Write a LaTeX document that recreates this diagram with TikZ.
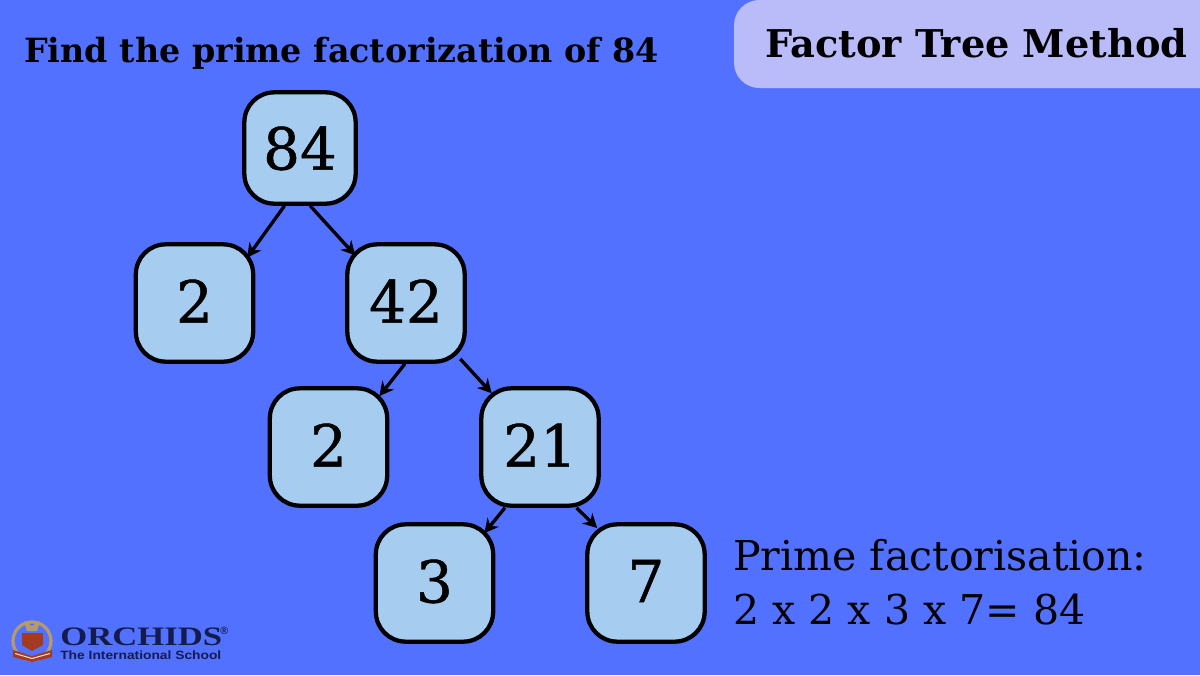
\documentclass[tikz,border=0pt]{standalone}
\usepackage{fontspec}
\usepackage{tikz}
\usetikzlibrary{arrows.meta}
\setmainfont{DejaVu Serif}
\newfontfamily\numfont[FakeBold=0.8]{DejaVu Serif}
\newfontfamily\logofont{Liberation Serif}
\newfontfamily\subfont{Liberation Sans}
\pgfdeclarelayer{edges}
\pgfsetlayers{edges,main}
\definecolor{bluebg}{HTML}{5271FF}
\definecolor{boxfill}{HTML}{A6CDF0}
\definecolor{bannerfill}{HTML}{B9BCF8}
\definecolor{logoink}{HTML}{141B4D}
\definecolor{crestgold}{HTML}{B79A6A}
\definecolor{crestred}{HTML}{A33A22}
\tikzstyle{fnode}=[shape=rectangle,rounded corners=22.5pt,draw=black,line width=3.2pt,fill=boxfill,minimum width=88pt,minimum height=88pt,inner sep=0pt,text depth=3pt,font=\numfont\fontsize{43.5}{44}\selectfont]
\tikzstyle{to}=[-{Stealth[length=10.5pt,width=11pt]},line width=2.5pt]
\tikzstyle{heading}=[inner sep=0pt,anchor=base west,font=\bfseries\fontsize{25}{30}\selectfont]
\tikzstyle{answer}=[inner sep=0pt,anchor=base west,font=\fontsize{30.8}{34}\selectfont]
\begin{document}
\begin{tikzpicture}[x=0.75pt,y=-0.75pt]
        \useasboundingbox (0,0) rectangle (1200,675);
        \begin{pgfonlayer}{edges}
            \fill[bluebg] (0,0) rectangle (1200,675);
        \end{pgfonlayer}
        \fill[bannerfill,rounded corners=19pt] (734,0) rectangle (1230,88);

        \node[heading] (title) at (24,62) {Find the prime factorization of 84};
        \node[heading,font=\bfseries\fontsize{28.7}{34}\selectfont] (method) at (765,57) {Factor Tree Method};

        \node[fnode] (three) at (434.5,583) {3};
        \node[fnode] (seven) at (646,583) {7};
        \node[fnode] (n21) at (540,447) {21};
        \node[fnode] (two2) at (328.5,447) {2};
        \node[fnode] (n42) at (406,303) {42};
        \node[fnode] (two1) at (194.5,303) {2};
        \node[fnode,minimum width=83.5pt,minimum height=83.5pt,text depth=0pt] (n84) at (300,148) {84};

        \begin{pgfonlayer}{edges}
            \path (n84.-105) edge[to, shorten >=-10.4pt] (two1.43);
            \path (n84.-80) edge[to, shorten >=-11.2pt] (n42.136);
            \path (n42.-91) edge[to, shorten >=-9.4pt] (two2.46);
            \path (n42.-46) edge[to, shorten <=-5pt, shorten >=-7.2pt] (n21.132);
            \path (n21.-120) edge[to, shorten >=-10.5pt] (three.46);
            \path (n21.-59) edge[to, shorten >=-6.2pt] (seven.132);
        \end{pgfonlayer}

        \node[answer] (prime) at (733,570) {Prime factorisation:};
        \node[answer] (product) at (733,624) {2 x 2 x 3 x 7= 84};

        % logo
        \draw[crestgold,line width=2.4pt] (32,641) circle [radius=19];
        \fill[crestgold] (24,621) -- (32,626) -- (40,621) -- (37,631) -- (27,631) -- cycle;
        \fill[crestred] (22,633) -- (43,633) -- (43,645) -- (32,651) -- (22,645) -- cycle;
        \fill[crestred] (13,650) -- (32,656) -- (52,650) -- (52,657) -- (32,662) -- (13,657) -- cycle;
        \draw[white!80!crestred,line width=0.8pt] (15,653.5) -- (32,658.5) -- (50,653.5);
        \node[inner sep=0pt,anchor=west,text=logoink,xscale=1.3,font=\logofont\bfseries\fontsize{20}{22}\selectfont] (orchids) at (60,637) {ORCHIDS};
        \node[inner sep=0pt,anchor=west,text=logoink,font=\subfont\bfseries\fontsize{8}{9}\selectfont] (mark) at (220,631) {®};
        \node[inner sep=0pt,anchor=west,text=logoink,xscale=1.15,font=\subfont\bfseries\fontsize{9}{10}\selectfont] (school) at (60,655) {The International School};
    \end{tikzpicture}
\end{document}
